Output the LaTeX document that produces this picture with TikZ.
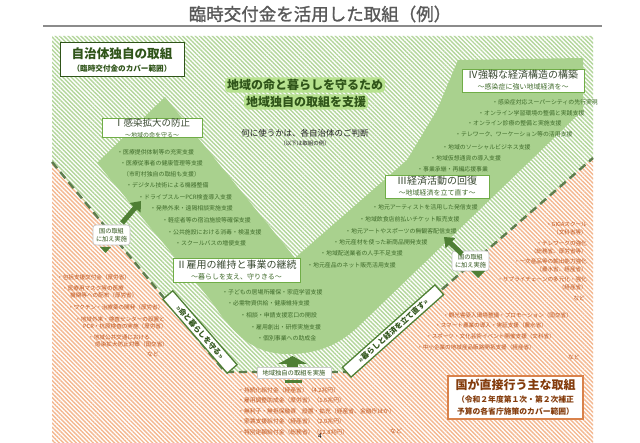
\documentclass[tikz,border=0pt]{standalone}
\usepackage{fontspec}
\setmainfont{Noto Sans CJK JP}
\newfontfamily\ttlfont{Noto Sans CJK JP}[FakeBold=1.2]
\usetikzlibrary{patterns.meta,arrows.meta}
\definecolor{gtext}{HTML}{3F6B2A}
\definecolor{gdark}{HTML}{2F5419}
\definecolor{gsolid}{HTML}{A9D18E}
\definecolor{gborder}{HTML}{70AD47}
\definecolor{garrow}{HTML}{4F7F35}
\definecolor{ghatch}{HTML}{B3D69B}
\definecolor{ohatch}{HTML}{F4B890}
\definecolor{otext}{HTML}{C0561E}
\definecolor{odark}{HTML}{843C0C}
\definecolor{oborder}{HTML}{D9824B}
\definecolor{titlegray}{HTML}{595959}
\definecolor{dashcol}{HTML}{5E7D4E}
\definecolor{glowcol}{HTML}{B7E28F}
\definecolor{boxtitlecol}{HTML}{3A4A32}
\tikzset{
  gitem/.style={anchor=west, inner sep=0pt, text=gtext, font=\fontsize{5.9}{6}\selectfont},
  oitem/.style={anchor=west, inner sep=0pt, text=otext, font=\fontsize{5.6}{6}\selectfont},
  oitemr/.style={oitem, anchor=east},
  bitem/.style={oitem, font=\fontsize{5.8}{6}\selectfont},
  secbox/.style={draw=gborder, line width=0.9pt, fill=white, inner sep=0pt, align=center, text=boxtitlecol},
  callout/.style={draw=black!25, line width=0.6pt, fill=white, rounded corners=3pt, inner sep=0pt, align=center, text=gdark, font=\fontsize{6.2}{7.6}\selectfont, minimum width=37pt, minimum height=20pt},
  diaglabel/.style={draw=garrow, line width=1.3pt, fill=white, inner sep=0pt, minimum height=13pt, text=gdark, font=\bfseries\fontsize{7.5}{8}\selectfont},
  dashline/.style={draw=dashcol, line width=2.4pt, dash pattern=on 8pt off 5pt},
  fatarrow/.style={draw=garrow, line width=5pt, -{Triangle[width=14pt,length=9pt]}},
  mainsty/.style={fill=glowcol, rounded corners=4pt, inner xsep=2pt, inner ysep=1.8pt, text=gdark, font=\bfseries\fontsize{12}{13}\selectfont},
}
\begin{document}
\begin{tikzpicture}[x=1pt,y=-1pt]
\useasboundingbox (0,0) rectangle (640,443);
\fill[white] (0,0) rectangle (640,443);
% title
\node[inner sep=0pt, text=titlegray, font=\ttlfont\fontsize{17.5}{18}\selectfont] (title) at (320,14) {臨時交付金を活用した取組（例）};
\coordinate (tl1) at (43,26); \coordinate (tl2) at (602,26);
\draw[titlegray!70, line width=1.3pt] (tl1) -- (tl2);
% regions
\coordinate (dA) at (52,162);
\coordinate (dB) at (225,372);
\coordinate (dC) at (347,372);
\coordinate (dD) at (593,158);
\path[pattern={Lines[angle=-45,distance=3pt,line width=1.4pt]}, pattern color=ghatch]
  (52,36) -- (593,36) -- (dD) -- (dC) -- (dB) -- (dA) -- cycle;
\path[pattern={Lines[angle=-45,distance=3pt,line width=1.4pt]}, pattern color=ohatch]
  (dA) -- (dB) -- (dC) -- (dD) -- (593,443) -- (52,443) -- cycle;
% solid V
\fill[gsolid] (165,97) -- (97,163) -- (212,302) .. controls (240,345) and (262,354) .. (288,354)
  .. controls (318,354) and (340,345) .. (362,323) -- (583,110) -- (583,58) -- (458,60)
  -- (437,110) -- (407,160) -- (295,258) -- cycle;
% dashed boundary
\draw[dashline] (dA) -- (dB) -- (dC) -- (dD);
% diagonal labels
\node[diaglabel, rotate=-49, minimum width=98pt] (lab1) at (200,332) {>>命と暮らしを守る>>};
\node[diaglabel, rotate=41.7, minimum width=124pt] (lab2) at (393,331) {>>暮らしと経済を立て直す>>};
% top-left box
\node[draw=gdark, line width=1pt, fill=white, minimum width=124pt, minimum height=34pt, inner sep=0pt, align=center, text=gdark] (jbox) at (122,60)
  {{\bfseries\fontsize{12.6}{14}\selectfont 自治体独自の取組}\\[1pt]{\bfseries\fontsize{7.6}{8}\selectfont （臨時交付金のカバー範囲）}};
% main phrase with glow band
\node[mainsty] (mainA) at (305,85) {地域の命と暮らしを守るため};
\node[mainsty] (mainB) at (306,102) {地域独自の取組を支援};
\node[inner sep=0pt, text=black!85, font=\fontsize{8.5}{9}\selectfont] (how) at (305,133) {何に使うかは、各自治体のご判断};
\node[inner sep=0pt, text=black!85, font=\fontsize{5.5}{6}\selectfont] (howsub) at (305,143) {（以下は取組の例）};
% section boxes
\node[secbox, minimum width=100pt, minimum height=18pt] (b1) at (152,128)
  {{\fontsize{9.5}{10}\selectfont Ⅰ感染拡大の防止}\\[-1pt]{\color{gtext}\fontsize{6}{6.5}\selectfont ～地域の命を守る～}};
\node[secbox, minimum width=127pt, minimum height=24pt] (b2) at (236.5,270)
  {{\fontsize{10}{11}\selectfont Ⅱ雇用の維持と事業の継続}\\[-1pt]{\color{gtext}\fontsize{7}{7.5}\selectfont ～暮らしを支え、守りきる～}};
\node[secbox, minimum width=104pt, minimum height=23pt] (b3) at (437,186.5)
  {{\fontsize{10}{11}\selectfont Ⅲ経済活動の回復}\\[-1pt]{\color{gtext}\fontsize{7}{7.5}\selectfont ～地域経済を立て直す～}};
\node[secbox, minimum width=122pt, minimum height=23pt] (b4) at (523,80.5)
  {{\fontsize{10}{11}\selectfont Ⅳ強靱な経済構造の構築}\\[-1pt]{\color{gtext}\fontsize{7}{7.5}\selectfont ～感染症に強い地域経済を～}};
% I items
\node[gitem] (i1) at (117,152) {・医療提供体制等の充実支援};
\node[gitem] (i2) at (120,163) {・医療従事者の健康管理等支援};
\node[gitem] (i3) at (123,174) {（市町村独自の取組も支援）};
\node[gitem] (i4) at (126,185) {・デジタル技術による機器整備};
\node[gitem] (i5) at (138,197) {・ドライブスルーPCR検査導入支援};
\node[gitem] (i6) at (150,208) {・発熱外来・遠隔相談実施支援};
\node[gitem] (i7) at (162,220) {・軽症者等の宿泊施設等確保支援};
\node[gitem] (i8) at (167,232) {・公共施設における消毒・検温支援};
\node[gitem] (i9) at (175,243) {・スクールバスの増便支援};
% II items
\node[gitem] (ii1) at (222,292) {・子どもの居場所確保・家庭学習支援};
\node[gitem] (ii2) at (227,303) {・必需物資供給・健康維持支援};
\node[gitem] (ii3) at (240,315) {・相談・申請支援窓口の開設};
\node[gitem] (ii4) at (250,327) {・雇用創出・研修実施支援};
\node[gitem] (ii5) at (257,338) {・個別事業への助成金};
% III items
\node[gitem] (iii1) at (372,207) {・地元アーティストを活用した発信支援};
\node[gitem] (iii2) at (359,219) {・地域飲食店前払いチケット販売支援};
\node[gitem] (iii3) at (345,231) {・地元アートやスポーツの無観客配信支援};
\node[gitem] (iii4) at (333,242) {・地元産材を使った新商品開発支援};
\node[gitem] (iii5) at (320,253) {・地域配送業者の人手不足支援};
\node[gitem] (iii6) at (307,265) {・地元産品のネット販売活用支援};
% IV items
\node[gitem] (iv1) at (492,102) {・感染症対応スーパーシティの先行実現};
\node[gitem] (iv2) at (478,113) {・オンライン学習環境の整備と実践支援};
\node[gitem] (iv3) at (467,123) {・オンライン診療の整備と実施支援};
\node[gitem] (iv4) at (455,134) {・テレワーク、ワーケーション等の活用支援};
\node[gitem] (iv5) at (442,147) {・地域のソーシャルビジネス支援};
\node[gitem] (iv6) at (430,158) {・地域仮想通貨の導入支援};
\node[gitem] (iv7) at (417,169) {・事業承継・再編応援事業};
% callouts
\node[callout] (c1) at (111.5,235) {国の取組\\に加え実施};
\node[callout] (c2) at (470.5,261) {国の取組\\に加え実施};
\coordinate (a1s) at (122,223); \coordinate (a1e) at (141,201);
\draw[fatarrow] (a1s) -- (a1e);
\coordinate (a2s) at (462,254); \coordinate (a2e) at (444,237);
\draw[fatarrow] (a2s) -- (a2e);
\fill[garrow] (100,247) -- (111,247) -- (105.5,253) -- cycle;
\fill[garrow] (471,271) -- (485,271) -- (478,278) -- cycle;
% center bottom
\fill[garrow] (278,364) -- (292.5,356) -- (307,364) -- cycle;
\fill[garrow] (287,363.5) rectangle (298,368.5);
\node[draw=black!20, line width=0.5pt, fill=white, minimum width=74pt, minimum height=11pt, inner sep=0pt, text=gdark, font=\fontsize{6.3}{7}\selectfont] (ctr) at (294,373) {地域独自の取組を実施};
\fill[garrow] (285,380) rectangle (302,383);
% orange left
\node[oitem] (o1) at (57,277) {・包括支援交付金（厚労省）};
\node[oitem] (o2) at (62,288) {・医療用マスク等の医療};
\node[oitem] (o2b) at (70,295) {機関等への配布（厚労省）};
\node[oitem] (o3) at (68,307) {・ワクチン・治療薬の開発（厚労省）};
\node[oitem] (o4) at (75,319) {・地域外来・検査センターの設置と};
\node[oitem] (o4b) at (83,326) {PCR・抗原検査の実施（厚労省）};
\node[oitem] (o5) at (88,337) {・地域公共交通における};
\node[oitem] (o5b) at (95,344) {感染拡大防止対策（国交省）};
\node[oitem] (o6) at (147,354) {など};
% orange right
\node[oitemr] (p1) at (587,224) {・GIGAスクール};
\node[oitemr] (p1b) at (587,232) {（文科省等）};
\node[oitemr] (p2) at (587,243) {・テレワークの強化};
\node[oitemr] (p2b) at (587,251) {（総務省、厚労省等）};
\node[oitemr] (p3) at (587,261) {・一次産品等の輸出能力強化};
\node[oitemr] (p3b) at (587,269) {（農水省、経産省）};
\node[oitemr] (p4) at (587,279) {・サプライチェーンの多元化・強化};
\node[oitemr] (p4b) at (587,287) {（経産省）};
\node[oitemr] (p5) at (585,298) {など};
% orange lower right
\node[oitem] (q1) at (443,315) {・観光客受入環境整備・プロモーション（国交省）};
\node[oitem] (q2) at (435,325) {・スマート農業の導入・実証支援（農水省）};
\node[oitem] (q3) at (426,336) {・スポーツ・文化芸術イベント開催支援（文科省）};
\node[oitem] (q4) at (417,347) {・中小企業の地域産品販路開拓支援（経産省）};
\node[oitem] (q5) at (568,357) {など};
% bottom
\node[bitem] (r1) at (238,390) {・持続化給付金（経産省）（4.2兆円）};
\node[bitem] (r2) at (238,400) {・雇用調整助成金（厚労省）（1.6兆円）};
\node[bitem] (r3) at (238,411) {・無利子・無担保融資　設置・拡充（経産省、金融庁ほか）};
\node[bitem] (r4) at (238,421) {・家賃支援給付金（経産省）（2.0兆円）};
\node[bitem] (r5) at (238,432) {・特別定額給付金（総務省）（12.8兆円）};
\node[bitem] (r6) at (390,431) {など};
% national box
\node[draw=oborder, line width=1.2pt, fill=white, minimum width=135pt, minimum height=43pt, inner sep=0pt, align=center, text=odark] (nbox) at (515.5,397.5)
  {{\bfseries\fontsize{12}{13}\selectfont 国が直接行う主な取組}\\[1pt]{\bfseries\fontsize{7.8}{9}\selectfont （令和２年度第１次・第２次補正}\\{\bfseries\fontsize{7.8}{9}\selectfont 予算の各省庁施策のカバー範囲）}};
% page number
\node[inner sep=0pt, font=\fontsize{6.5}{7}\selectfont] (pg) at (320,436) {4};
\end{tikzpicture}
\end{document}
